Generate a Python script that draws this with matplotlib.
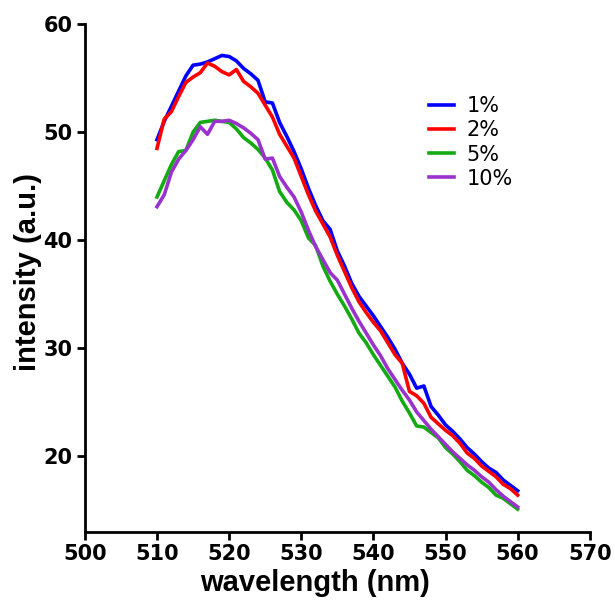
import numpy as np
import matplotlib
matplotlib.use("Agg")
import matplotlib.pyplot as plt

plt.rcParams['font.family'] = ['Liberation Sans', 'DejaVu Sans']

# wavelength axis, 1 nm steps
wavelength = np.arange(510, 561)

# intensities
conc_1 = [49.3, 51.0, 52.4, 53.8, 55.2, 56.2, 56.3, 56.5, 56.8, 57.1,
          57.0, 56.6, 55.9, 55.4, 54.8, 52.8, 52.7, 50.9, 49.6, 48.2,
          46.6, 44.8, 43.2, 41.8, 41.0, 39.0, 37.6, 36.0, 34.8, 33.9,
          33.0, 32.0, 31.0, 29.9, 28.6, 27.6, 26.3, 26.5, 24.6, 23.8,
          22.9, 22.3, 21.6, 20.8, 20.2, 19.5, 18.9, 18.5, 17.8, 17.3, 16.8]
conc_2 = [48.5, 51.2, 51.9, 53.3, 54.6, 55.1, 55.5, 56.4, 56.1, 55.6,
          55.3, 55.8, 54.7, 54.2, 53.6, 52.5, 51.4, 49.8, 48.7, 47.6,
          45.9, 44.2, 42.7, 41.5, 40.3, 38.6, 37.1, 35.6, 34.3, 33.3,
          32.4, 31.6, 30.5, 29.4, 28.6, 26.0, 25.6, 24.9, 23.6, 23.0,
          22.4, 21.9, 21.2, 20.3, 19.8, 19.1, 18.6, 18.1, 17.4, 17.0, 16.4]
conc_5 = [44.0, 45.5, 47.0, 48.2, 48.3, 50.0, 50.9, 51.0, 51.1, 51.0,
          50.9, 50.3, 49.5, 49.0, 48.4, 47.6, 46.5, 44.5, 43.5, 42.8,
          41.8, 40.2, 39.5, 37.6, 36.2, 35.0, 33.9, 32.7, 31.4, 30.5,
          29.4, 28.4, 27.4, 26.4, 25.1, 24.0, 22.8, 22.7, 22.2, 21.7,
          20.8, 20.2, 19.5, 18.7, 18.2, 17.6, 17.1, 16.4, 16.1, 15.6, 15.1]
conc_10 = [43.1, 44.2, 46.3, 47.5, 48.3, 49.3, 50.5, 49.8, 51.0, 51.0,
           51.1, 50.8, 50.4, 49.9, 49.3, 47.5, 47.6, 45.9, 44.9, 44.0,
           42.6, 40.9, 39.4, 38.2, 37.0, 36.3, 35.0, 33.7, 32.5, 31.4,
           30.3, 29.3, 28.1, 27.1, 26.1, 25.2, 24.1, 23.3, 22.5, 21.8,
           21.1, 20.4, 19.8, 19.2, 18.7, 18.1, 17.6, 16.9, 16.3, 15.8, 15.3]

labels = ['1%', '2%', '5%', '10%']
colors = ['#0000ff', '#ff0000', '#14aa14', '#9933cc']

fig = plt.figure(figsize=(6.15, 6.03), dpi=100)
ax = fig.add_axes([0.138, 0.118, 0.821, 0.842])

for y, lab, c in zip([conc_1, conc_2, conc_5, conc_10], labels, colors):
    ax.plot(wavelength, y, color=c, lw=2.6, label=lab)

ax.set_xlim(500, 570)
ax.set_ylim(13, 60)
ax.set_xticks(np.arange(500, 571, 10))
ax.set_yticks([20, 30, 40, 50, 60])

for s in ['top', 'right']:
    ax.spines[s].set_visible(False)
for s in ['left', 'bottom']:
    ax.spines[s].set_linewidth(2)
ax.tick_params(width=2, length=6, pad=3)
# tick digits in the reference are wide, DejaVu bold fits them better
for t in ax.get_xticklabels() + ax.get_yticklabels():
    t.set_fontfamily('DejaVu Sans')
    t.set_fontweight('bold')
    t.set_fontsize(15)

ax.set_xlabel('wavelength (nm)', fontsize=21, fontweight='bold')
ax.xaxis.set_label_coords(0.455, -0.073)
ax.set_ylabel('intensity (a.u.)', fontsize=21, fontweight='bold')
ax.yaxis.set_label_coords(-0.084, 0.512)

leg = ax.legend(loc='upper left', bbox_to_anchor=(0.645, 0.895), frameon=False,
                prop={'family': 'DejaVu Sans', 'size': 15},
                handlelength=1.2, handletextpad=0.6, labelspacing=0.2)

fig.savefig('out.png', dpi=100)
